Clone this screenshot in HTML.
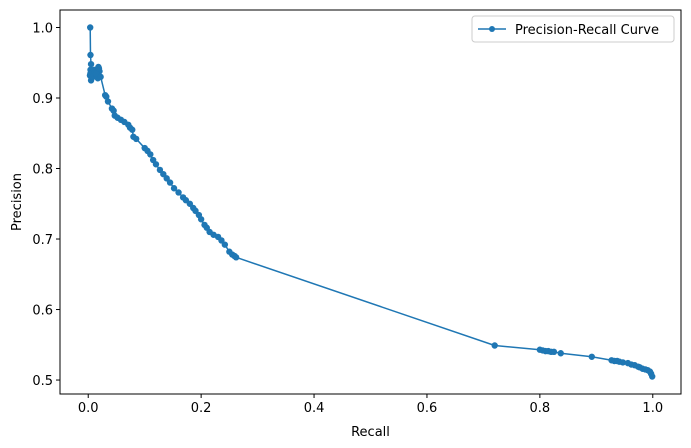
<!DOCTYPE html>
<html><head><meta charset="utf-8"><style>
body{margin:0;background:#fff;}
svg{display:block;font-family:"DejaVu Sans","Liberation Sans",sans-serif;}
</style></head><body>
<svg id="chart" width="691" height="448" viewBox="0 0 691 448"></svg>
<script>
const recall=[0.0035,0.004,0.005,0.004,0.003,0.006,0.005,0.004,0.008,0.01,0.012,0.015,0.018,0.02,0.017,0.014,0.019,0.022,0.03,0.032,0.035,0.042,0.045,0.047,0.052,0.058,0.064,0.071,0.074,0.078,0.08,0.085,0.1,0.105,0.11,0.115,0.12,0.127,0.133,0.139,0.145,0.152,0.16,0.168,0.173,0.18,0.186,0.19,0.196,0.2,0.206,0.21,0.215,0.222,0.23,0.236,0.242,0.25,0.255,0.259,0.262,0.72,0.80,0.805,0.81,0.815,0.82,0.825,0.837,0.892,0.927,0.932,0.937,0.941,0.947,0.956,0.962,0.968,0.974,0.977,0.982,0.987,0.991,0.995,0.997,0.999];
const precision=[1.0,0.961,0.948,0.94,0.932,0.928,0.925,0.935,0.93,0.94,0.936,0.932,0.944,0.938,0.928,0.935,0.942,0.93,0.904,0.902,0.895,0.885,0.882,0.875,0.872,0.869,0.866,0.862,0.858,0.855,0.845,0.842,0.829,0.825,0.82,0.812,0.806,0.798,0.792,0.786,0.78,0.772,0.766,0.759,0.755,0.75,0.744,0.74,0.734,0.728,0.72,0.716,0.71,0.706,0.703,0.698,0.692,0.682,0.678,0.676,0.674,0.549,0.543,0.542,0.541,0.541,0.54,0.54,0.538,0.533,0.528,0.527,0.527,0.526,0.525,0.524,0.522,0.521,0.519,0.518,0.516,0.515,0.514,0.512,0.509,0.505];
const xTicks=[0.0,0.2,0.4,0.6,0.8,1.0];
const yTicks=[0.5,0.6,0.7,0.8,0.9,1.0];
const xLabels=["0.0","0.2","0.4","0.6","0.8","1.0"];
const yLabels=["0.5","0.6","0.7","0.8","0.9","1.0"];

const NS="http://www.w3.org/2000/svg";
const svg=document.getElementById('chart');
const L=60,R=681,T=10,B=394;
const xMin=-0.05,xMax=1.05,yMin=0.4802,yMax=1.0248;
const sx=v=>L+(v-xMin)/(xMax-xMin)*(R-L);
const sy=v=>B-(v-yMin)/(yMax-yMin)*(B-T);
function mk(tag,attrs,parent){const e=document.createElementNS(NS,tag);for(const k in attrs)e.setAttribute(k,attrs[k]);(parent||svg).appendChild(e);return e;}

xTicks.forEach((t,i)=>{
  const g=mk('g',{});
  
  
  mk('line',{x1:sx(t),x2:sx(t),y1:B,y2:B+4,stroke:'#000','stroke-width':1},g);
  const tx=mk('text',{x:sx(t),y:B+18,'text-anchor':'middle','font-size':13,fill:'#000'},g);tx.textContent=xLabels[i];
});
yTicks.forEach((t,i)=>{
  const g=mk('g',{});
  
  
  mk('line',{x1:L-4,x2:L,y1:sy(t),y2:sy(t),stroke:'#000','stroke-width':1},g);
  const tx=mk('text',{x:L-7,y:sy(t)+5,'text-anchor':'end','font-size':13,fill:'#000'},g);tx.textContent=yLabels[i];
});

const pts=recall.map((r,i)=>sx(r).toFixed(2)+','+sy(precision[i]).toFixed(2)).join(' ');
const line=mk('polyline',{points:pts,fill:'none',stroke:'#1f77b4','stroke-width':1.5,'stroke-linejoin':'round'});


recall.forEach((r,i)=>{
  const c=mk('circle',{cx:sx(r),cy:sy(precision[i]),r:3.2,fill:'#1f77b4'});
  
  
});

const frame=mk('rect',{x:L,y:T,width:R-L,height:B-T,fill:'none',stroke:'#000','stroke-width':1});



const xl=mk('text',{x:(L+R)/2,y:436,'text-anchor':'middle','font-size':13,fill:'#000'});xl.textContent='Recall';


const yl=mk('text',{x:0,y:0,'text-anchor':'middle','font-size':13,fill:'#000',transform:'translate(21,'+((T+B)/2)+') rotate(-90)'});yl.textContent='Precision';



const lg=mk('g',{});


mk('rect',{x:472,y:16,width:202,height:26,rx:3,fill:'#fff',stroke:'#ccc','stroke-width':1},lg);
mk('line',{x1:478,x2:506,y1:29,y2:29,stroke:'#1f77b4','stroke-width':1.5},lg);
mk('circle',{cx:492,cy:29,r:3,fill:'#1f77b4'},lg);
const lt=mk('text',{x:515,y:34,'font-size':13,fill:'#000'},lg);lt.textContent='Precision-Recall Curve';


</script>
</body></html>
